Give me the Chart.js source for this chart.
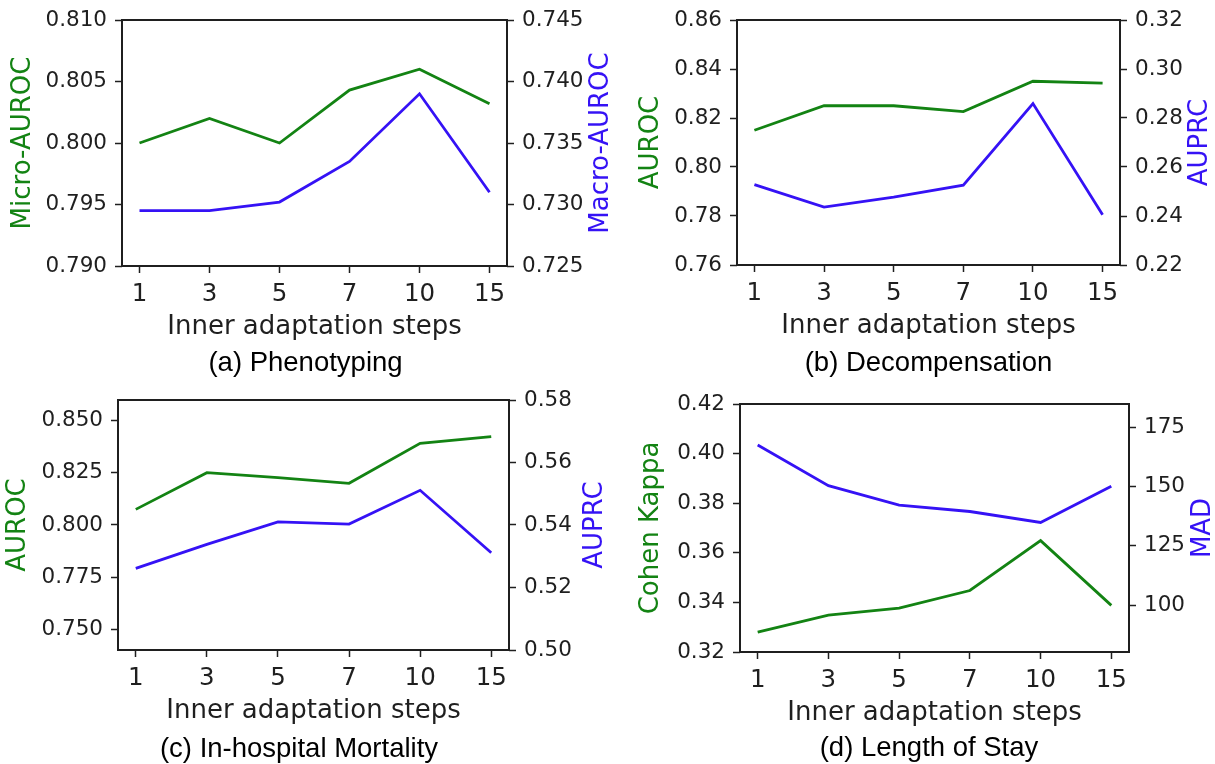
<!DOCTYPE html>
<html>
<head>
<meta charset="utf-8">
<title>Inner adaptation steps</title>
<script src="https://cdn.jsdelivr.net/npm/chart.js@4/dist/chart.umd.min.js"></script>
<style>
  html, body { margin: 0; padding: 0; background: #ffffff; }
  #figure { position: relative; width: 1215px; height: 764px; overflow: hidden; background: #ffffff; }
  #figure canvas { position: absolute; left: 0; top: 0; }
</style>
</head>
<body>
<div id="figure">
  <canvas id="panelA" width="1215" height="764"></canvas>
  <canvas id="panelB" width="1215" height="764"></canvas>
  <canvas id="panelC" width="1215" height="764"></canvas>
  <canvas id="panelD" width="1215" height="764"></canvas>
</div>
<script>
// ---- data ---------------------------------------------------------------
const stepLabels = ['1', '3', '5', '7', '10', '15'];
const stepIndex = [0, 1, 2, 3, 4, 5];

// (a) Phenotyping
const phenoMicroAuroc = [0.8000, 0.8020, 0.8000, 0.8043, 0.8060, 0.8032];
const phenoMacroAuroc = [0.7295, 0.7295, 0.7302, 0.7335, 0.7390, 0.7310];
const phenoMicroRange = [0.790, 0.810];
const phenoMacroRange = [0.725, 0.745];
const phenoMicroTicks = [0.790, 0.795, 0.800, 0.805, 0.810];
const phenoMacroTicks = [0.725, 0.730, 0.735, 0.740, 0.745];

// (b) Decompensation
const decompAuroc = [0.8150, 0.8250, 0.8250, 0.8226, 0.8350, 0.8342];
const decompAuprc = [0.2528, 0.2436, 0.2477, 0.2526, 0.2859, 0.2405];
const decompAurocRange = [0.76, 0.86];
const decompAuprcRange = [0.22, 0.32];
const decompAurocTicks = [0.76, 0.78, 0.80, 0.82, 0.84, 0.86];
const decompAuprcTicks = [0.22, 0.24, 0.26, 0.28, 0.30, 0.32];

// (c) In-hospital Mortality
const mortAuroc = [0.8075, 0.8251, 0.8227, 0.8200, 0.8392, 0.8424];
const mortAuprc = [0.5261, 0.5338, 0.5410, 0.5403, 0.5511, 0.5311];
const mortAurocRange = [0.740, 0.860];
const mortAuprcRange = [0.50, 0.58];
const mortAurocTicks = [0.750, 0.775, 0.800, 0.825, 0.850];
const mortAuprcTicks = [0.50, 0.52, 0.54, 0.56, 0.58];

// (d) Length of Stay
const losKappa = [0.3280, 0.3349, 0.3377, 0.3448, 0.3649, 0.3388];
const losMad = [167.4, 150.3, 142.1, 139.4, 134.8, 150.0];
const losKappaRange = [0.32, 0.42];
const losMadRange = [80.2, 184.7];
const losKappaTicks = [0.32, 0.34, 0.36, 0.38, 0.40, 0.42];
const losMadTicks = [100, 125, 150, 175];

// ---- styling ------------------------------------------------------------
const INK = '#1f1f1f';
const GREEN = '#138313';
const BLUE = '#3512f5';
const FIG_W = 1215, FIG_H = 764;
const AXIS_BOX = 75;           // fixed thickness given to every axis box
const SANS = 'DejaVu Sans';
const CAPTION_FONT = '27.5px "Liberation Sans", Arial, sans-serif';

const toPoints = values => values.map((v, i) => ({ x: stepIndex[i], y: v }));

function tickGrid() {
  return { drawOnChartArea: false, drawTicks: true, tickLength: 7, tickColor: INK, tickWidth: 1.5 };
}

function yScale(position, range, ticks, digits) {
  return {
    type: 'linear',
    position,
    clip: false,
    min: range[0],
    max: range[1],
    afterBuildTicks: s => { s.ticks = ticks.map(v => ({ value: v })); },
    afterFit: s => { s.width = AXIS_BOX; s.paddingTop = 0; s.paddingBottom = 0; },
    ticks: {
      autoSkip: false,
      padding: 8,
      color: INK,
      font: { family: SANS, size: 21.5 },
      callback: v => Number(v).toFixed(digits)
    },
    grid: tickGrid(),
    border: { display: false }
  };
}

function xScale() {
  return {
    type: 'linear',
    clip: false,
    min: -0.25,
    max: 5.25,
    afterBuildTicks: s => { s.ticks = stepIndex.map(v => ({ value: v })); },
    afterFit: s => { s.height = AXIS_BOX; s.paddingLeft = 0; s.paddingRight = 0; },
    ticks: {
      autoSkip: false,
      maxRotation: 0,
      minRotation: 0,
      padding: 7,
      color: INK,
      font: { family: SANS, size: 24.5 },
      callback: v => stepLabels[v]
    },
    grid: tickGrid(),
    border: { display: false }
  };
}

// Frame, axis titles, x label and sub-caption of each panel.
const panelDecor = {
  id: 'panelDecor',
  afterDatasetsDraw(chart, args, o) {
    const { ctx, chartArea: a } = chart;
    const cx = (a.left + a.right) / 2;
    const cy = (a.top + a.bottom) / 2;
    ctx.save();
    ctx.strokeStyle = INK;
    ctx.lineWidth = 2;
    ctx.strokeRect(a.left, a.top, a.right - a.left, a.bottom - a.top);

    ctx.font = '26px "' + SANS + '"';
    ctx.textAlign = 'center';
    ctx.textBaseline = 'middle';
    const vertical = (txt, x, color) => {
      ctx.save();
      ctx.translate(x, cy);
      ctx.rotate(-Math.PI / 2);
      ctx.fillStyle = color;
      ctx.fillText(txt, 0, 0);
      ctx.restore();
    };
    vertical(o.leftTitle, a.left + o.leftTitleDx, GREEN);
    vertical(o.rightTitle, a.right + o.rightTitleDx, BLUE);

    ctx.textBaseline = 'alphabetic';
    ctx.fillStyle = INK;
    ctx.fillText('Inner adaptation steps', cx, a.bottom + 68);

    ctx.font = CAPTION_FONT;
    ctx.fillStyle = '#000000';
    ctx.fillText(o.caption, o.captionX, o.captionY);
    ctx.restore();
  }
};

function makePanel(p) {
  return new Chart(document.getElementById(p.canvas), {
    type: 'line',
    data: {
      datasets: [
        { data: toPoints(p.left), yAxisID: 'yL', borderColor: GREEN, borderWidth: 2.8,
          pointRadius: 0, tension: 0, fill: false },
        { data: toPoints(p.right), yAxisID: 'yR', borderColor: BLUE, borderWidth: 2.8,
          pointRadius: 0, tension: 0, fill: false }
      ]
    },
    options: {
      responsive: false,
      animation: false,
      devicePixelRatio: 1,
      events: [],
      layout: {
        padding: {
          left: p.box.l - AXIS_BOX,
          right: FIG_W - p.box.r - AXIS_BOX,
          top: p.box.t,
          bottom: FIG_H - p.box.b - AXIS_BOX
        }
      },
      scales: {
        x: xScale(),
        yL: yScale('left', p.leftRange, p.leftTicks, p.leftDigits),
        yR: yScale('right', p.rightRange, p.rightTicks, p.rightDigits)
      },
      plugins: {
        legend: { display: false },
        tooltip: { enabled: false },
        panelDecor: p.decor
      }
    },
    plugins: [panelDecor]
  });
}

makePanel({
  canvas: 'panelA', box: { l: 122, t: 20, r: 507, b: 266 },
  left: phenoMicroAuroc, leftRange: phenoMicroRange, leftTicks: phenoMicroTicks, leftDigits: 3,
  right: phenoMacroAuroc, rightRange: phenoMacroRange, rightTicks: phenoMacroTicks, rightDigits: 3,
  decor: { leftTitle: 'Micro-AUROC', leftTitleDx: -99, rightTitle: 'Macro-AUROC', rightTitleDx: 94,
           caption: '(a) Phenotyping', captionX: 305.5, captionY: 370.5 }
});

makePanel({
  canvas: 'panelB', box: { l: 737, t: 20, r: 1120, b: 265 },
  left: decompAuroc, leftRange: decompAurocRange, leftTicks: decompAurocTicks, leftDigits: 2,
  right: decompAuprc, rightRange: decompAuprcRange, rightTicks: decompAuprcTicks, rightDigits: 2,
  decor: { leftTitle: 'AUROC', leftTitleDx: -86, rightTitle: 'AUPRC', rightTitleDx: 80,
           caption: '(b) Decompensation', captionX: 928.5, captionY: 371 }
});

makePanel({
  canvas: 'panelC', box: { l: 118, t: 400, r: 509, b: 650 },
  left: mortAuroc, leftRange: mortAurocRange, leftTicks: mortAurocTicks, leftDigits: 3,
  right: mortAuprc, rightRange: mortAuprcRange, rightTicks: mortAuprcTicks, rightDigits: 2,
  decor: { leftTitle: 'AUROC', leftTitleDx: -100, rightTitle: 'AUPRC', rightTitleDx: 86,
           caption: '(c) In-hospital Mortality', captionX: 299, captionY: 756.5 }
});

makePanel({
  canvas: 'panelD', box: { l: 740, t: 404, r: 1129, b: 652 },
  left: losKappa, leftRange: losKappaRange, leftTicks: losKappaTicks, leftDigits: 2,
  right: losMad, rightRange: losMadRange, rightTicks: losMadTicks, rightDigits: 0,
  decor: { leftTitle: 'Cohen Kappa', leftTitleDx: -89, rightTitle: 'MAD', rightTitleDx: 74,
           caption: '(d) Length of Stay', captionX: 929, captionY: 755.5 }
});
</script>
</body>
</html>
